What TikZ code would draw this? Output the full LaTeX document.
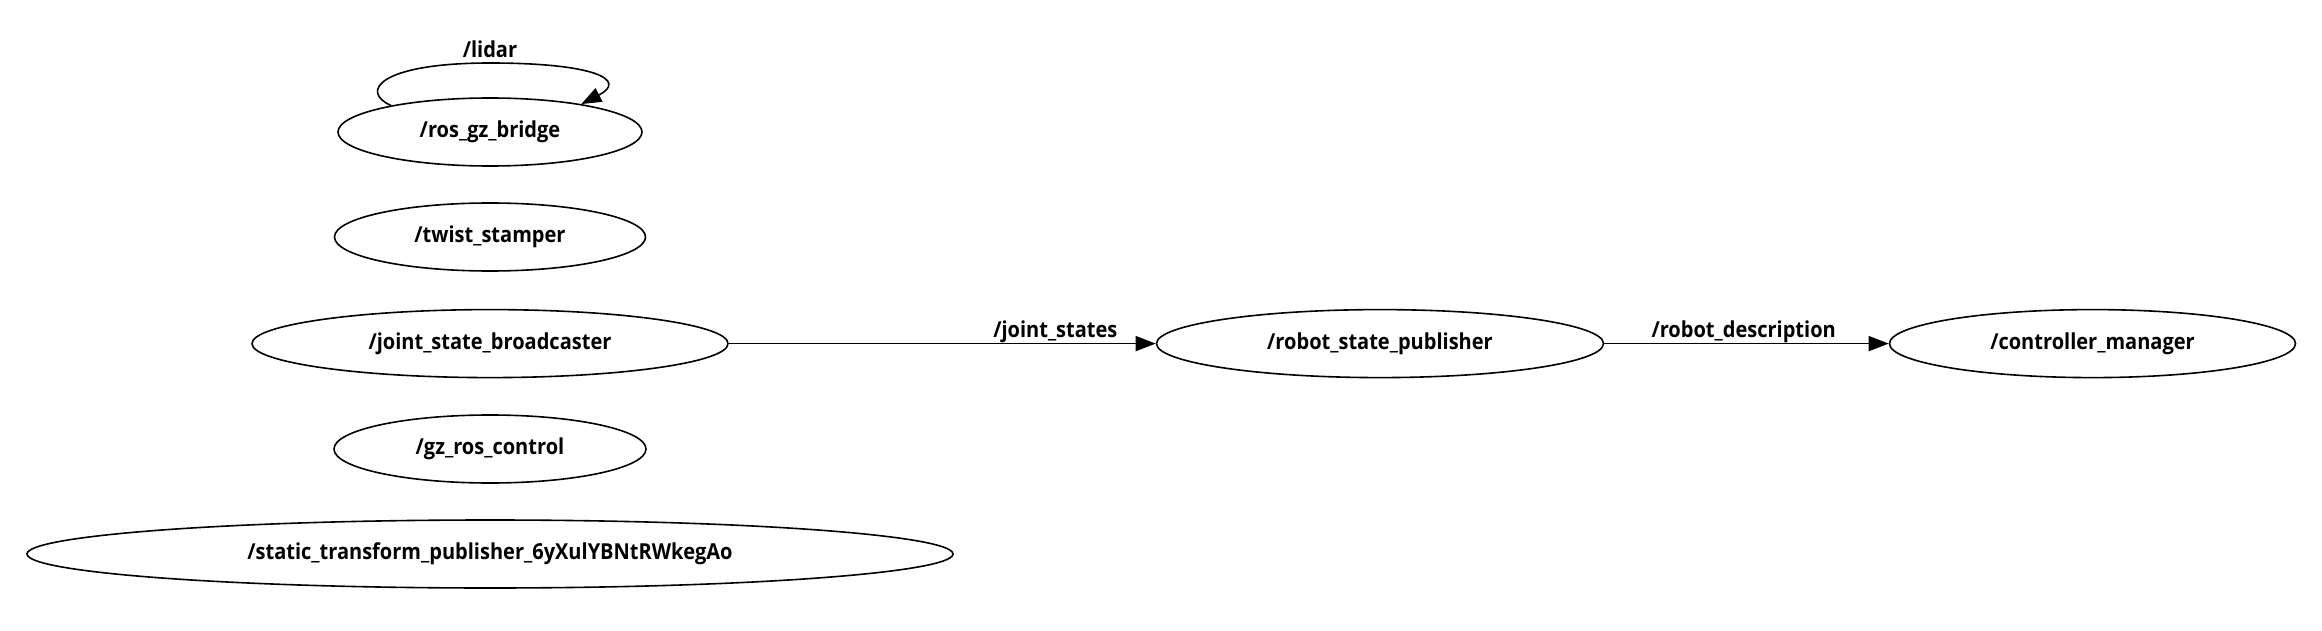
\documentclass[tikz,border=0pt]{standalone}
\usepackage{fontspec}
\usetikzlibrary{shapes.geometric,arrows.meta}
\newfontfamily\nodefont[FakeStretch=0.91]{Open Sans}
\begin{document}
\begin{tikzpicture}[x=1pt,y=-1pt,
  nd/.style={ellipse, draw, line width=1.6pt, inner sep=0pt, minimum height=68pt, font=\nodefont\bfseries\fontsize{22}{24}\selectfont},
  lbl/.style={font=\nodefont\bfseries\fontsize{22}{24}\selectfont, inner sep=0pt},
  arr/.style={line width=1.6pt, -{Triangle[length=20pt,width=15pt]}}]
\useasboundingbox (0,0) rectangle (2322,631);
\node[nd, minimum width=304pt] (rgb) at (490,132) {/ros\_gz\_bridge};
\node[nd, minimum width=311pt] (ts) at (490,237) {/twist\_stamper};
\node[nd, minimum width=476pt] (jsb) at (490,343.6) {/joint\_state\_broadcaster};
\node[nd, minimum width=312pt] (grc) at (490,449) {/gz\_ros\_control};
\node[nd, minimum width=926pt] (stp) at (490,554) {/static\_transform\_publisher\_6yXulYBNtRWkegAo};
\node[nd, minimum width=447pt] (rsp) at (1380,343.6) {/robot\_state\_publisher};
\node[nd, minimum width=406pt] (cm) at (2092.5,343.6) {/controller\_manager};
\draw[arr] (rgb.165) .. controls (360,92) and (378,63) .. (490,63) .. controls (595,63) and (628,80) .. (rgb.17);
\node[lbl] (lidar) at (490,49) {/lidar};
\draw[arr] (jsb) -- node[lbl, pos=0.765, anchor=base, yshift=6pt] {/joint\_states} (rsp);
\draw[arr] (rsp) -- node[lbl, pos=0.49, anchor=base, yshift=6pt] {/robot\_description} (cm);
\end{tikzpicture}
\end{document}
